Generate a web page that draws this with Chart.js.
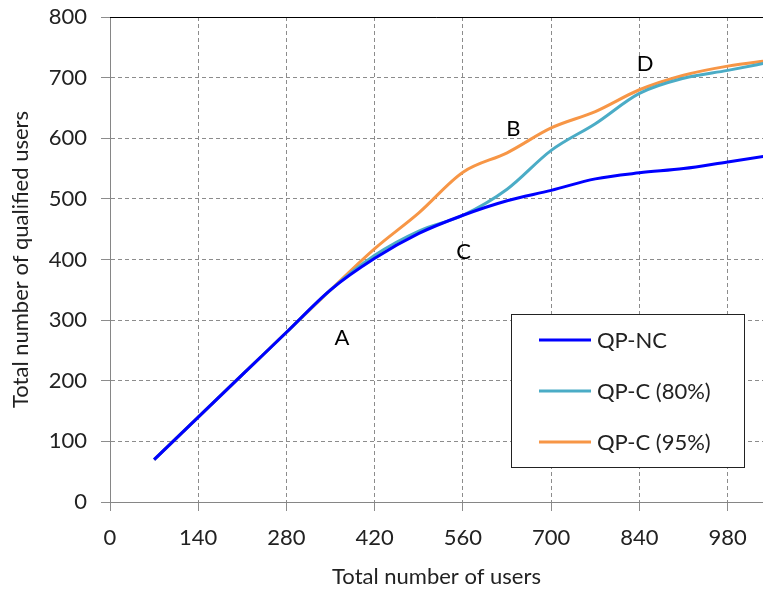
<!DOCTYPE html>
<html>
<head>
<meta charset="utf-8">
<script src="https://cdn.jsdelivr.net/npm/chart.js@4/dist/chart.umd.min.js"></script>
<style>
  body { margin: 0; background: #fff; }
  canvas { display: block; }
</style>
</head>
<body>
<canvas id="graph0" width="763" height="592"></canvas>
<script>
// values
var users = [70, 140, 210, 280, 350, 420, 490, 560, 630, 700, 770, 840, 910, 980, 1050];
var qpNC  = [70, 140, 210, 280, 350, 402, 443, 473, 497, 514, 533, 543, 550, 561, 572];
var qpC80 = [70, 140, 210, 280, 350, 407, 447, 473, 516, 580, 624, 674, 699, 712, 726];
var qpC95 = [70, 140, 210, 280, 350, 418, 477, 544, 576, 617, 644, 680, 704, 719, 729];

var seriesNames = ['QP-NC', 'QP-C (80%)', 'QP-C (95%)'];
var xTicks = [0, 140, 280, 420, 560, 700, 840, 980];
var yTicks = [0, 100, 200, 300, 400, 500, 600, 700, 800];

// point labels A-D, placed in data units
var noteText = ['A', 'B', 'C', 'D'];
var noteX = [368, 640, 561, 849];
var noteY = [271, 616, 412, 723];

var colors = ['#0000ff', '#4bacc6', '#f79646'];
var FONT = 'Lato';

function toPoints(ys) {
  var pts = [];
  for (var i = 0; i < users.length; i++) {
    pts.push({x: users[i], y: ys[i]});
  }
  return pts;
}

function makeDataset(i, ys) {
  return {
    label: seriesNames[i],
    data: toPoints(ys),
    borderColor: colors[i],
    backgroundColor: colors[i],
    borderWidth: 3,
    pointRadius: 0,
    fill: false,
    cubicInterpolationMode: 'monotone'
  };
}

var extras = {
  id: 'extras',
  afterDraw: function(chart) {
    var ctx = chart.ctx;
    var area = chart.chartArea;
    var xs = chart.scales.x;
    var ys = chart.scales.y;

    ctx.save();
    // black top frame line
    ctx.strokeStyle = '#000';
    ctx.lineWidth = 1;
    ctx.beginPath();
    ctx.moveTo(area.left, Math.round(area.top) + 0.5);
    ctx.lineTo(area.right, Math.round(area.top) + 0.5);
    ctx.stroke();

    // A B C D
    ctx.font = '22px ' + FONT;
    ctx.fillStyle = '#000';
    ctx.textAlign = 'center';
    ctx.textBaseline = 'middle';
    for (var i = 0; i < noteText.length; i++) {
      ctx.fillText(noteText[i], xs.getPixelForValue(noteX[i]), ys.getPixelForValue(noteY[i]));
    }

    // legend box
    var bx = 511, by = 314, bw = 233, bh = 153;
    ctx.fillStyle = '#fff';
    ctx.fillRect(bx, by, bw, bh);
    ctx.strokeStyle = '#222';
    ctx.strokeRect(bx + 0.5, by + 0.5, bw, bh);

    ctx.textAlign = 'left';
    var sets = chart.data.datasets;
    for (var j = 0; j < sets.length; j++) {
      var cy = 340 + j * 51;
      ctx.strokeStyle = sets[j].borderColor;
      ctx.lineWidth = 3;
      ctx.beginPath();
      ctx.moveTo(539, cy);
      ctx.lineTo(591, cy);
      ctx.stroke();
      ctx.fillStyle = '#222';
      ctx.fillText(sets[j].label, 597, cy + 1);
    }
    ctx.restore();
  }
};

function drawGraph() {
  Chart.defaults.font.family = FONT;
  Chart.defaults.font.size = 22;
  Chart.defaults.color = '#222';

  var ctx = document.getElementById('graph0');
  new Chart(ctx, {
    type: 'line',
    data: {
      datasets: [
        makeDataset(0, qpNC),
        makeDataset(1, qpC80),
        makeDataset(2, qpC95)
      ]
    },
    options: {
      responsive: false,
      animation: false,
      layout: {padding: {top: 17, right: 0, left: 0, bottom: 0}},
      plugins: {legend: {display: false}, tooltip: {enabled: false}},
      scales: {
        x: {
          type: 'linear',
          min: 0,
          max: 1036,
          afterBuildTicks: function(axis) {
            axis.ticks = xTicks.map(function(v) { return {value: v}; });
          },
          afterFit: function(s) {
            s.height = 90;
            s.paddingLeft = 0;
            s.paddingRight = 0;
          },
          ticks: {maxRotation: 0, padding: 14, autoSkip: false},
          grid: {color: '#8c8c8c', tickLength: 9, tickColor: '#8c8c8c'},
          border: {color: '#868686', width: 1, dash: [4, 3]},
          title: {display: true, text: 'Total number of users', padding: {top: 0, bottom: 2}, color: '#222'}
        },
        y: {
          min: 0,
          max: 800,
          afterBuildTicks: function(axis) {
            axis.ticks = yTicks.map(function(v) { return {value: v}; });
          },
          afterFit: function(s) {
            s.width = 110;
            s.paddingTop = 0;
            s.paddingBottom = 0;
          },
          ticks: {padding: 14},
          grid: {color: '#8c8c8c', tickLength: 9, tickColor: '#8c8c8c'},
          border: {color: '#868686', width: 1, dash: [4, 3]},
          title: {display: true, text: 'Total number of qualified users', padding: {top: 8, bottom: 0}, color: '#222'}
        }
      }
    },
    plugins: [extras]
  });
}

drawGraph();
</script>
</body>
</html>
